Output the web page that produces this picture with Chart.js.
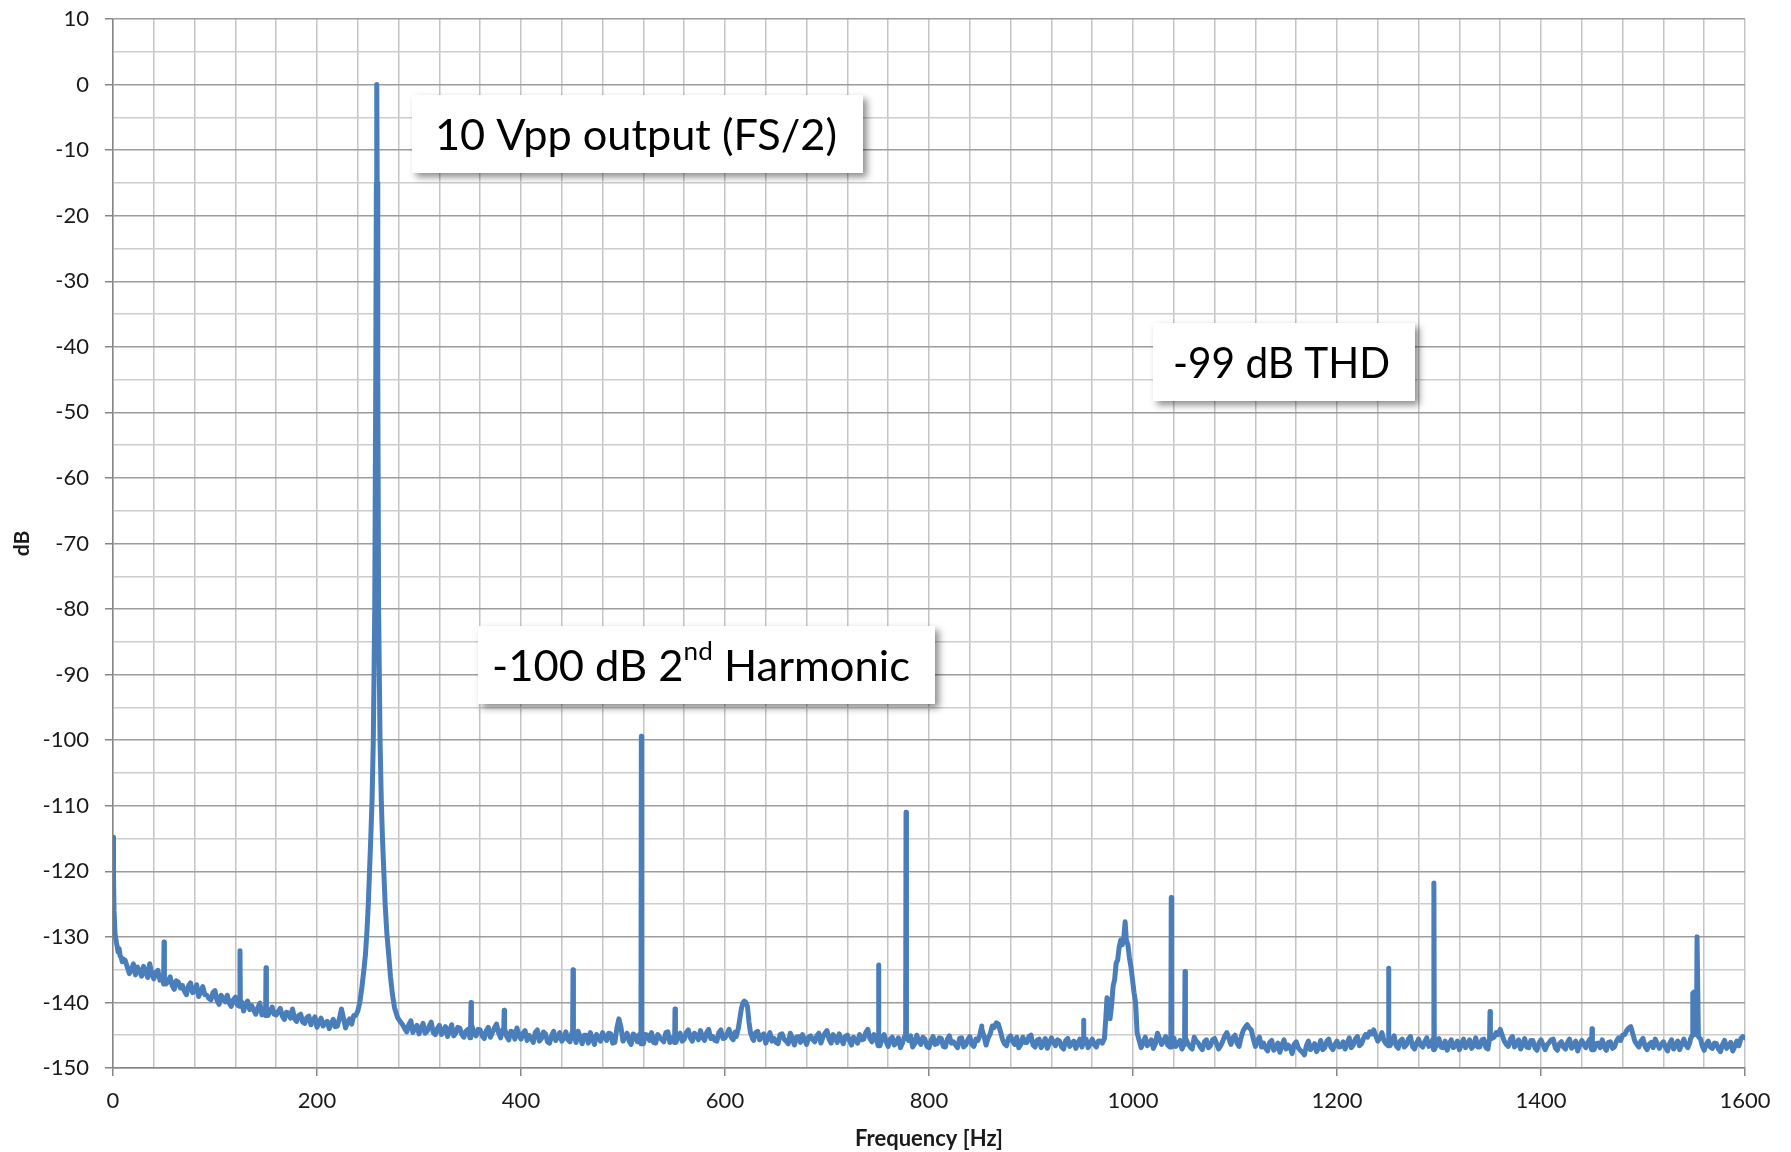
<!DOCTYPE html>
<html>
<head>
<meta charset="utf-8">
<script src="https://cdn.jsdelivr.net/npm/chart.js@4.4.1/dist/chart.umd.min.js"></script>
<style>
  html, body { margin: 0; padding: 0; background: #fff; }
  #wrap { width: 1791px; height: 1152px; }
</style>
</head>
<body>
<div id="wrap"><canvas id="spectrum" width="1791" height="1152"></canvas></div>
<script>
// noise floor, one value every 4 Hz from 0 to 1600 Hz
var floorStepHz = 4;
var floorDb = [
  -115.0, -131.5, -133.2, -133.6, -135.6, -134.1, -134.6, -136.0, -135.3, -134.1,
  -136.4, -135.1, -136.0, -137.2, -136.1, -138.0, -136.9, -137.4, -138.8, -137.0,
  -138.2, -139.1, -137.6, -138.9, -139.6, -138.2, -140.3, -139.4, -138.9, -140.6,
  -139.2, -140.6, -141.3, -139.8, -140.5, -141.8, -140.1, -141.5, -142.0, -140.7,
  -141.9, -140.9, -142.6, -141.6, -141.0, -142.9, -141.8, -143.2, -142.1, -142.8,
  -143.8, -142.4, -143.1, -144.0, -142.6, -143.6, -141.0, -143.9, -142.5, -142.0,
  -141.3, -137.7, -131.0, -118.0, -100.0, -100.0, -115.0, -128.0, -136.0, -140.5,
  -142.6, -143.4, -144.5, -142.8, -143.9, -144.8, -143.2, -144.4, -143.0, -144.9,
  -143.5, -144.3, -145.2, -143.4, -144.7, -143.9, -145.3, -144.1, -143.6, -145.1,
  -144.2, -145.5, -143.8, -144.6, -143.3, -145.4, -144.0, -145.7, -144.5, -143.9,
  -145.6, -144.3, -145.0, -146.1, -144.2, -145.5, -144.8, -146.2, -144.4, -145.3,
  -145.9, -144.5, -146.0, -145.1, -144.4, -146.3, -145.0, -144.6, -146.4, -145.2,
  -144.6, -145.8, -144.8, -146.1, -142.5, -145.9, -144.7, -146.4, -145.1, -144.9,
  -146.3, -145.0, -144.6, -146.2, -145.3, -146.0, -144.5, -145.4, -146.1, -144.7,
  -145.6, -144.2, -145.9, -145.0, -144.3, -145.8, -144.1, -145.2, -145.9, -144.2,
  -145.4, -144.1, -145.7, -144.6, -141.0, -140.2, -143.6, -145.8, -144.4, -145.1,
  -146.2, -144.6, -145.5, -146.3, -144.8, -145.9, -144.7, -146.5, -145.2, -144.9,
  -146.4, -145.1, -146.0, -144.7, -145.3, -144.3, -146.2, -145.4, -144.8, -146.3,
  -145.0, -146.5, -145.7, -144.9, -145.6, -144.1, -146.0, -145.3, -146.6, -144.9,
  -146.7, -145.3, -146.1, -146.9, -145.2, -145.8, -146.8, -145.0, -146.4, -145.6,
  -146.9, -145.2, -146.3, -145.5, -146.8, -145.1, -146.0, -146.9, -145.4, -146.5,
  -145.2, -146.7, -145.8, -144.0, -146.5, -144.8, -143.8, -143.3, -145.6, -146.6,
  -145.1, -146.4, -146.9, -145.3, -146.1, -145.0, -146.8, -145.6, -146.3, -147.0,
  -145.4, -146.6, -145.9, -147.1, -145.5, -146.3, -147.0, -145.6, -146.1, -146.9,
  -145.6, -146.8, -145.9, -146.5, -139.5, -140.0, -134.0, -131.0, -128.0, -133.0,
  -137.5, -144.5, -146.9, -145.3, -146.2, -147.0, -144.7, -146.4, -145.2, -146.8,
  -145.4, -146.3, -147.1, -145.6, -146.8, -145.3, -146.2, -147.2, -145.7, -146.6,
  -145.5, -147.1, -145.9, -144.6, -146.4, -145.0, -146.7, -144.3, -143.4, -144.2,
  -146.7, -145.3, -146.2, -147.4, -145.8, -146.9, -147.6, -145.7, -146.5, -147.8,
  -146.0, -147.3, -148.0, -145.9, -146.8, -147.5, -145.8, -146.9, -145.6, -147.2,
  -145.9, -146.7, -147.1, -145.4, -146.5, -145.2, -146.3, -144.9, -144.5, -144.2,
  -145.9, -144.6, -146.3, -146.6, -145.1, -147.0, -145.6, -146.5, -145.2, -147.1,
  -145.6, -146.8, -145.4, -146.3, -147.2, -145.5, -146.9, -147.3, -145.7, -146.6,
  -147.2, -145.6, -146.4, -147.0, -145.4, -146.8, -145.6, -147.1, -145.5, -144.6,
  -144.1, -145.9, -146.7, -145.2, -146.4, -147.1, -145.5, -146.9, -145.8, -147.3,
  -145.7, -147.2, -146.1, -145.6, -147.3, -146.0, -147.1, -145.6, -146.6, -147.4,
  -145.8, -146.9, -145.6, -147.2, -146.2, -145.7, -147.3, -146.0, -146.8, -145.4,
  -145.0, -144.3, -143.7, -145.9, -146.8, -145.5, -147.2, -146.1, -145.6, -147.0,
  -146.0, -147.4, -145.7, -146.6, -147.2, -145.6, -146.9, -145.4, -146.5, -145.3,
  -147.3, -145.9, -147.0, -146.3, -147.5, -145.8, -146.6, -147.4, -145.9, -145.5,
  -145.4
];
// in-between readings at 2, 6, 10 ... 1598 Hz
var floorMidDb = [
  -129.8, -132.6, -134.9, -134.6, -135.0, -135.8, -135.2, -134.5, -136.2, -135.6,
  -135.4, -136.6, -135.5, -136.8, -137.4, -136.7, -137.8, -138.3, -137.5, -138.5,
  -137.3, -138.4, -138.8, -139.4, -138.5, -139.7, -138.9, -139.9, -140.1, -139.6,
  -140.4, -139.9, -140.2, -141.1, -141.2, -140.8, -141.9, -140.9, -141.3, -141.8,
  -141.4, -142.1, -141.5, -142.4, -142.5, -142.0, -143.0, -142.3, -143.4, -142.2,
  -143.0, -143.6, -142.9, -143.2, -143.7, -142.4, -142.4, -143.0, -143.3, -142.3,
  -140.0, -135.0, -125.0, -108.0, -60.0, -60.0, -108.0, -125.0, -134.0, -141.0,
  -143.1, -144.0, -143.4, -144.6, -143.5, -144.0, -144.7, -143.6, -144.6, -144.0,
  -144.9, -143.7, -144.3, -145.1, -143.8, -144.9, -144.4, -145.4, -144.8, -144.1,
  -145.1, -144.3, -145.3, -143.9, -144.6, -144.2, -145.2, -144.4, -145.6, -145.0,
  -144.7, -145.8, -145.5, -144.6, -145.9, -144.5, -146.0, -145.1, -145.8, -144.6,
  -145.4, -145.7, -144.6, -146.1, -145.3, -145.0, -146.2, -145.6, -144.9, -145.9,
  -145.3, -144.7, -146.2, -143.9, -143.8, -145.2, -145.9, -144.8, -146.0, -145.6,
  -144.9, -145.8, -146.1, -144.9, -145.7, -144.6, -146.1, -145.2, -145.0, -145.9,
  -144.6, -145.4, -144.7, -145.7, -145.3, -144.6, -145.5, -145.8, -144.6, -145.5,
  -144.8, -145.3, -144.5, -143.0, -140.5, -141.5, -144.8, -144.6, -145.7, -144.8,
  -145.4, -145.9, -146.1, -144.9, -145.6, -146.3, -145.5, -145.3, -146.1, -145.7,
  -145.3, -145.7, -145.1, -146.2, -144.7, -145.6, -144.9, -146.1, -145.6, -145.2,
  -145.8, -145.3, -146.2, -145.7, -144.6, -145.5, -144.9, -146.1, -145.4, -146.0,
  -145.6, -146.5, -145.4, -146.2, -146.6, -145.1, -146.3, -145.9, -145.3, -146.7,
  -145.8, -146.4, -145.4, -146.7, -145.6, -146.2, -146.5, -145.5, -146.8, -145.7,
  -146.4, -145.6, -144.9, -145.2, -145.4, -143.6, -143.1, -144.4, -146.3, -145.4,
  -145.9, -145.3, -146.4, -146.1, -145.2, -146.5, -145.8, -146.9, -145.5, -146.2,
  -146.1, -145.7, -146.8, -145.8, -146.7, -145.9, -146.2, -146.8, -145.6, -146.3,
  -146.4, -145.9, -146.6, -145.2, -140.0, -139.0, -132.0, -130.0, -130.0, -135.0,
  -140.0, -145.9, -146.1, -146.6, -145.7, -146.3, -145.5, -145.9, -146.5, -145.8,
  -146.7, -145.8, -146.4, -146.3, -147.1, -145.9, -146.8, -146.0, -146.9, -145.7,
  -146.3, -146.6, -145.1, -145.5, -145.4, -146.2, -145.3, -143.8, -143.9, -145.6,
  -145.8, -146.8, -147.0, -146.1, -147.3, -146.2, -146.5, -147.1, -146.8, -146.4,
  -146.9, -147.6, -146.6, -147.2, -146.3, -146.9, -147.2, -145.9, -146.8, -146.4,
  -146.8, -146.0, -146.2, -146.9, -145.6, -146.6, -145.5, -145.3, -144.8, -145.1,
  -145.4, -145.8, -145.4, -145.9, -146.6, -145.9, -146.8, -145.6, -146.7, -146.2,
  -146.5, -146.0, -146.7, -145.6, -146.4, -146.8, -145.9, -146.3, -146.9, -145.9,
  -146.3, -146.9, -145.7, -146.6, -146.8, -145.7, -146.9, -146.0, -145.3, -144.9,
  -145.0, -146.4, -145.6, -146.8, -145.7, -146.4, -146.8, -145.8, -146.9, -146.2,
  -146.4, -146.5, -145.7, -146.9, -146.3, -146.8, -146.1, -147.0, -145.9, -146.5,
  -146.4, -146.1, -146.8, -146.3, -146.9, -146.7, -146.1, -147.0, -145.9, -145.8,
  -144.9, -143.9, -144.8, -146.4, -145.9, -146.7, -146.4, -146.9, -146.3, -146.4,
  -146.8, -146.3, -147.1, -145.9, -146.4, -146.5, -146.1, -146.2, -145.8, -146.6,
  -146.4, -146.8, -146.2, -147.1, -146.4, -147.0, -146.1, -146.7, -146.6, -145.2
];

// single-bin lines (harmonics, mains pickup): frequency and peak level
var spikeHz = [50, 124.5, 150, 351, 383.5, 451, 518, 551, 750.5, 777.5, 851.5, 951.5, 1037.5, 1051, 1250.5, 1295, 1350, 1450];
var spikeDb = [-130.8, -132.1, -134.7, -140.0, -141.2, -135.0, -99.4, -141.0, -134.3, -111.0, -143.6, -142.7, -124.0, -135.3, -134.8, -121.8, -141.4, -144.0];

// wider features traced point by point
var lowEndHz = [0, 0.5, 1, 2, 3, 4, 5, 6, 7, 8, 9, 10];
var lowEndDb = [-114.8, -121.0, -126.0, -129.5, -130.6, -131.4, -132.3, -131.8, -132.9, -133.1, -133.8, -133.4];

var carrierHz = [238, 240, 242, 244, 246, 247.5, 249, 250.3, 251.5, 252.7, 254, 255.2, 256.6, 257.6, 258.2, 258.6, 259.0, 259.6, 260.4, 261.8, 263, 264.2, 265.5, 266.8, 268.5, 270.3, 272, 273.9, 276, 279, 282];
var carrierDb = [-142.0, -141.3, -140.0, -137.7, -135.0, -132.7, -129.0, -125.0, -120.0, -115.0, -109.0, -100.0, -80.0, -45.0, -15.0, 0.0, -15.0, -45.0, -80.0, -100.0, -109.0, -115.0, -120.0, -125.0, -129.5, -132.7, -136.0, -138.7, -140.8, -142.3, -143.0];

var hump620Hz = [611, 613, 614.5, 616, 617.5, 619, 620.5, 622, 623.5, 625, 627];
var hump620Db = [-145.2, -144.0, -142.5, -141.0, -140.1, -139.8, -140.0, -140.6, -143.0, -144.6, -145.5];

var hump990Hz = [970, 972, 973.5, 974.5, 976, 977.5, 979, 980.5, 982, 983.5, 985, 986.5, 988, 989.5, 991, 992.3, 993.5, 995, 996.5, 998, 999.5, 1001, 1002.5, 1004, 1006];
var hump990Db = [-146.2, -145.5, -142.0, -139.3, -139.8, -142.5, -140.5, -137.5, -136.5, -134.0, -133.5, -131.5, -130.5, -131.2, -130.0, -127.7, -130.5, -131.2, -133.2, -134.6, -136.5, -138.5, -140.0, -144.6, -145.8];

var pair1550Hz = [1546.5, 1548.3, 1548.8, 1550.2, 1550.8, 1552.4, 1553.0, 1553.7, 1554.3, 1556.5];
var pair1550Db = [-145.6, -145.0, -138.6, -138.4, -144.6, -144.9, -130.0, -130.0, -145.2, -145.6];

// annotation boxes (text only; placed by their top-left corner in data units)
var noteTexts = [
  [{ t: '10 Vpp output (FS/2)' }],
  [{ t: '-100 dB 2' }, { t: 'nd', sup: true }, { t: ' Harmonic' }],
  [{ t: '-99 dB THD' }]
];
var noteHz = [293, 358, 1019.6];
var noteDb = [-1.6, -82.6, -36.4];
var noteBox = [ // width, height, text inset, text width
  [451, 78, 23, 402],
  [457, 78, 14, 418],
  [262, 78, 20, 217]
];

var FONT = 'Lato, "Open Sans", sans-serif';

// assemble the trace
var features = [[lowEndHz, lowEndDb], [carrierHz, carrierDb], [hump620Hz, hump620Db], [hump990Hz, hump990Db], [pair1550Hz, pair1550Db]];
var points = [];
function addFloor(f, db) {
  var covered = features.some(function(ft) { return f >= ft[0][0] && f <= ft[0][ft[0].length - 1]; });
  var nearSpike = spikeHz.some(function(s) { return Math.abs(f - s) < 1; });
  if (!covered && !nearSpike) points.push({ x: f, y: db });
}
floorDb.forEach(function(db, i) { addFloor(i * floorStepHz, db); });
floorMidDb.forEach(function(db, i) { addFloor(i * floorStepHz + floorStepHz / 2, db); });
features.forEach(function(ft) {
  ft[0].forEach(function(f, k) { points.push({ x: f, y: ft[1][k] }); });
});
spikeHz.forEach(function(s, k) {
  var base = floorDb[Math.round(s / floorStepHz)];
  points.push({ x: s - 0.4, y: base }, { x: s, y: spikeDb[k] }, { x: s + 0.4, y: base });
});
points.sort(function(a, b) { return a.x - b.x; });

// draw the callout boxes on top of the trace
var notesPlugin = {
  id: 'notes',
  afterDatasetsDraw: function(chart) {
    var ctx = chart.ctx;
    var xs = chart.scales.x, ys = chart.scales.y;
    noteTexts.forEach(function(parts, n) {
      var bx = Math.round(xs.getPixelForValue(noteHz[n]));
      var by = Math.round(ys.getPixelForValue(noteDb[n]));
      var w = noteBox[n][0], h = noteBox[n][1];
      ctx.save();
      ctx.shadowColor = 'rgba(0,0,0,0.45)';
      ctx.shadowBlur = 7;
      ctx.shadowOffsetX = 4;
      ctx.shadowOffsetY = 4;
      ctx.fillStyle = '#ffffff';
      ctx.fillRect(bx, by, w, h);
      ctx.restore();

      // font height as in the picture, squeezed sideways to the picture's text width
      var size = 43, total = 0;
      parts.forEach(function(p) {
        ctx.font = (p.sup ? size * 0.6 : size) + 'px ' + FONT;
        total += ctx.measureText(p.t).width;
      });
      var sx = noteBox[n][3] / total;
      var x = 0;
      ctx.save();
      ctx.translate(bx + noteBox[n][2], by + 55);
      ctx.scale(sx, 1);
      ctx.fillStyle = '#000';
      ctx.textBaseline = 'alphabetic';
      parts.forEach(function(p) {
        ctx.font = (p.sup ? size * 0.6 : size) + 'px ' + FONT;
        ctx.fillText(p.t, x, p.sup ? -size * 0.5 : 0);
        x += ctx.measureText(p.t).width;
      });
      ctx.restore();
    });
  }
};

var ctx = document.getElementById('spectrum').getContext('2d');
var spectrumChart = new Chart(ctx, {
  type: 'line',
  data: {
    datasets: [{
      label: 'Spectrum',
      data: points,
      borderColor: '#4A7EBB',
      borderWidth: 5,
      pointRadius: 0,
      tension: 0,
      fill: false,
      borderJoinStyle: 'round',
      borderCapStyle: 'round'
    }]
  },
  options: {
    responsive: false,
    animation: false,
    events: [],
    layout: { padding: { left: 0, top: 19, right: 46, bottom: 0 } },
    plugins: { legend: { display: false }, tooltip: { enabled: false } },
    scales: {
      x: {
        type: 'linear',
        min: 0,
        max: 1600,
        afterFit: function(scale) {
          scale.height = 84;
          scale.paddingLeft = 0;
          scale.paddingRight = 0;
        },
        ticks: {
          stepSize: 40,
          autoSkip: false,
          maxRotation: 0,
          padding: 12,
          color: '#1a1a1a',
          font: { family: FONT, size: 22 },
          callback: function(v) { return v % 200 === 0 ? String(v) : ''; }
        },
        grid: {
          color: '#c4c4c4',
          lineWidth: 1.5,
          tickLength: 8,
          tickColor: function(c) { return c.tick && c.tick.value % 200 === 0 ? '#868686' : 'rgba(0,0,0,0)'; }
        },
        border: { color: '#868686', width: 1.5 },
        title: {
          display: true,
          text: 'Frequency [Hz]',
          color: '#1a1a1a',
          font: { family: FONT, size: 22, weight: 'bold' },
          padding: { top: 0, bottom: 0 }
        }
      },
      y: {
        min: -150,
        max: 10,
        afterFit: function(scale) {
          scale.width = 113;
          scale.paddingTop = 0;
          scale.paddingBottom = 0;
        },
        ticks: {
          stepSize: 5,
          autoSkip: false,
          padding: 16,
          color: '#1a1a1a',
          font: { family: FONT, size: 22 },
          callback: function(v) { return v % 10 === 0 ? String(v) : ''; }
        },
        grid: {
          color: function(c) { return c.tick && c.tick.value % 10 === 0 ? '#9c9c9c' : '#cdcdcd'; },
          lineWidth: 1.5,
          tickLength: 8,
          tickColor: function(c) { return c.tick && c.tick.value % 10 === 0 ? '#868686' : 'rgba(0,0,0,0)'; }
        },
        border: { color: '#868686', width: 1.5 },
        title: {
          display: true,
          text: 'dB',
          color: '#1a1a1a',
          font: { family: FONT, size: 21, weight: 'bold' },
          padding: { top: 10, bottom: 0 }
        }
      }
    }
  },
  plugins: [notesPlugin]
});
</script>
</body>
</html>
